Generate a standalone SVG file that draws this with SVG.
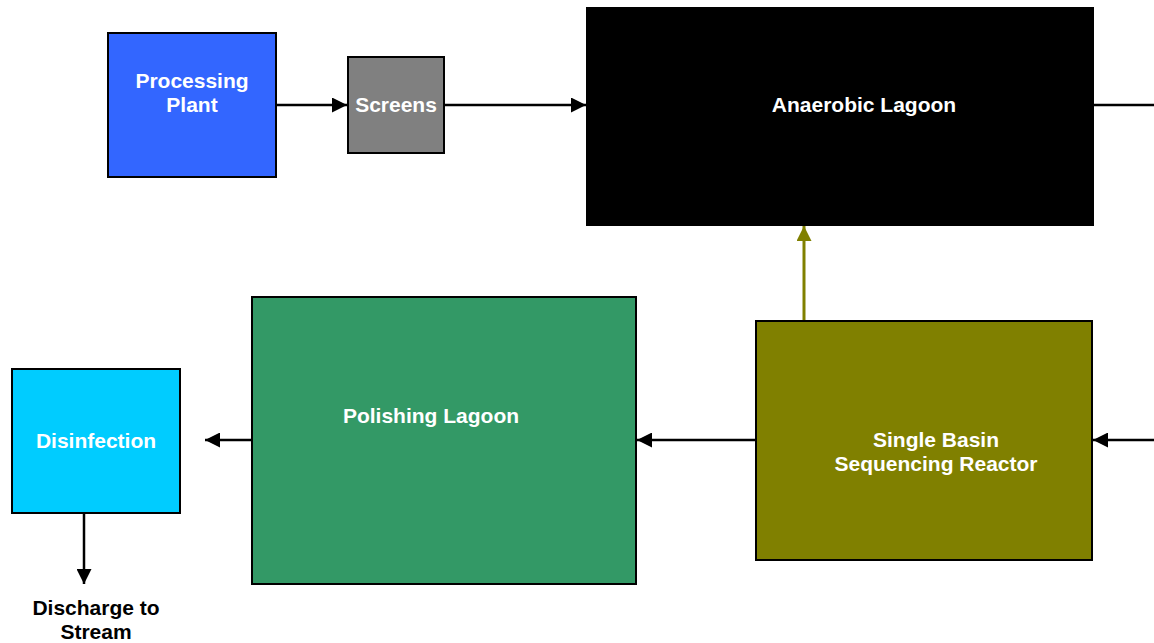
<svg xmlns="http://www.w3.org/2000/svg" width="1154" height="643" viewBox="0 0 1154 643">
<style>
.box{stroke:#000;stroke-width:2}
.lbl{font-family:"Liberation Sans",Arial,sans-serif;font-weight:bold;font-size:21px;fill:#fff;text-anchor:middle}
.dark{fill:#000}
.ln{stroke:#000;stroke-width:2.5;fill:none}
.ol{stroke:#808000;stroke-width:3;fill:none}
</style>
<defs>
<marker id="ah" viewBox="0 0 15 15" refX="15" refY="7.5" markerWidth="15" markerHeight="15" markerUnits="userSpaceOnUse" orient="auto"><path d="M0,0 L15,7.5 L0,15 Z" fill="#000"/></marker>
<marker id="aho" viewBox="0 0 15 15" refX="15" refY="7.5" markerWidth="15" markerHeight="15" markerUnits="userSpaceOnUse" orient="auto"><path d="M0,0 L15,7.5 L0,15 Z" fill="#808000"/></marker>
</defs>
<rect width="1154" height="643" fill="#fff"/>
<g id="connectors">
<line class="ln" x1="276" y1="105" x2="347" y2="105" marker-end="url(#ah)"/>
<line class="ln" x1="444" y1="105" x2="586" y2="105" marker-end="url(#ah)"/>
<line class="ln" x1="1093" y1="105" x2="1154" y2="105"/>
<line class="ol" x1="804" y1="321" x2="804" y2="226" marker-end="url(#aho)"/>
<line class="ln" x1="756" y1="440" x2="637" y2="440" marker-end="url(#ah)"/>
<line class="ln" x1="1154" y1="440" x2="1093" y2="440" marker-end="url(#ah)"/>
<line class="ln" x1="252" y1="440" x2="205" y2="440" marker-end="url(#ah)"/>
<line class="ln" x1="84" y1="513" x2="84" y2="584" marker-end="url(#ah)"/>
</g>
<g id="processing-plant">
<rect class="box" x="108" y="33" width="168" height="144" fill="#3366FF"/>
<text class="lbl" x="192" y="88">Processing</text>
<text class="lbl" x="192" y="112">Plant</text>
</g>
<g id="screens">
<rect class="box" x="348" y="57" width="96" height="96" fill="#808080"/>
<text class="lbl" x="396" y="112">Screens</text>
</g>
<g id="anaerobic-lagoon">
<rect class="box" x="587" y="8" width="506" height="217" fill="#000"/>
<text class="lbl" x="864" y="112">Anaerobic Lagoon</text>
</g>
<g id="polishing-lagoon">
<rect class="box" x="252" y="297" width="384" height="287" fill="#339966"/>
<text class="lbl" x="431" y="423">Polishing Lagoon</text>
</g>
<g id="sbr">
<rect class="box" x="756" y="321" width="336" height="239" fill="#808000"/>
<text class="lbl" x="936" y="447">Single Basin</text>
<text class="lbl" x="936" y="471">Sequencing Reactor</text>
</g>
<g id="disinfection">
<rect class="box" x="12" y="369" width="168" height="144" fill="#00CCFF"/>
<text class="lbl" x="96" y="448">Disinfection</text>
</g>
<g id="discharge">
<text class="lbl dark" x="96" y="615">Discharge to</text>
<text class="lbl dark" x="96" y="639">Stream</text>
</g>
</svg>
